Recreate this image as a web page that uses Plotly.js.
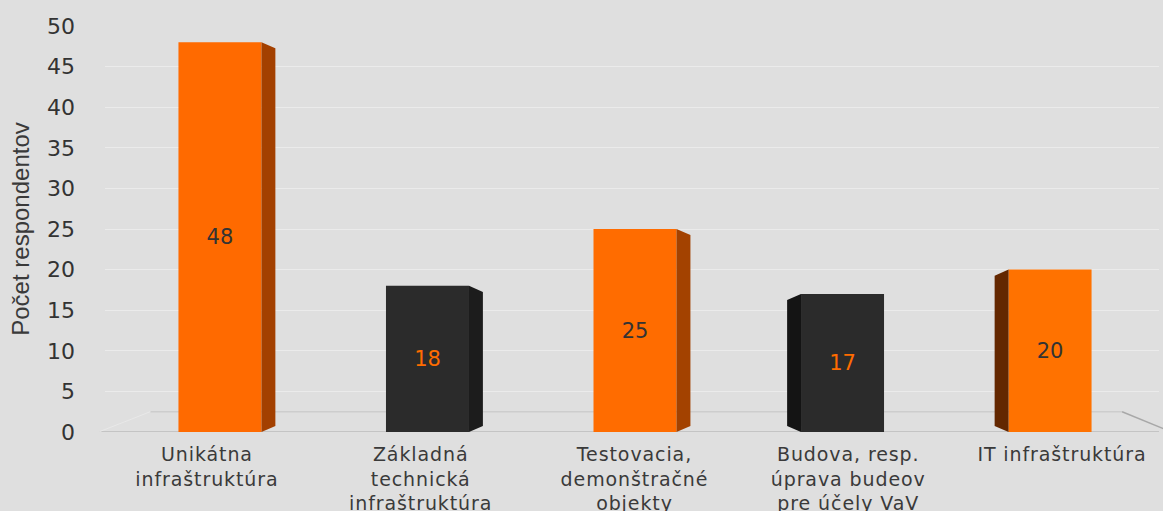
<!DOCTYPE html>
<html>
<head>
<meta charset="utf-8">
<script src="https://cdn.plot.ly/plotly-3.0.1.min.js"></script>
<style>
html,body{margin:0;padding:0;background:#dfdfdf;}
#chart{width:1163px;height:511px;}
g.x2tick text{letter-spacing:0.9px;}
</style>
</head>
<body>
<div id="chart"></div>
<script>
const categories = ["Unikátna<br>infraštruktúra", "Základná<br>technická<br>infraštruktúra", "Testovacia,<br>demonštračné<br>objekty", "Budova, resp.<br>úprava budeov<br>pre účely VaV", "IT infraštruktúra"];
const values = [48, 18, 25, 17, 20];
const barColors = ["#ff6a00", "#2b2b2b", "#ff6c00", "#2b2b2b", "#ff7200"];
const sideColors = ["#a34000", "#1c1c1c", "#a34200", "#141414", "#632700"];
const sideDir = [1, 1, 1, -1, -1];
const textColors = ["#333333", "#ff6c00", "#333333", "#ff6c00", "#333333"];
const tickVals = [0, 5, 10, 15, 20, 25, 30, 35, 40, 45, 50];

const FONT = 'DejaVu Sans, Verdana, sans-serif';
const barWidth = 0.4;
const depth = 0.067;
const slant = 0.75;
const idx = categories.map((c, i) => i);

const shapes = values.map((v, i) => {
  const edge = i + sideDir[i] * barWidth / 2;
  const outer = edge + sideDir[i] * depth;
  return {
    type: 'path', xref: 'x', yref: 'y', layer: 'above',
    path: `M ${edge} 0 L ${edge} ${v} L ${outer} ${v - slant} L ${outer} ${slant} Z`,
    fillcolor: sideColors[i], line: {width: 0}
  };
});
// floor outline (front edge, back edge, perspective sides)
shapes.push({type:'line', xref:'paper', yref:'y', x0:-0.005, x1:1, y0:0, y1:0, line:{color:'#c4c4c4', width:2}, layer:'below'});
shapes.push({type:'line', xref:'paper', yref:'y', x0:0.043, x1:0.965, y0:2.5, y1:2.5, line:{color:'#cdcdcd', width:1.5}, layer:'below'});
shapes.push({type:'line', xref:'paper', yref:'y', x0:-0.005, x1:0.043, y0:0.05, y1:2.5, line:{color:'#e8e8e8', width:1}, layer:'below'});
shapes.push({type:'line', xref:'paper', yref:'y', x0:0.965, x1:1.01, y0:2.5, y1:0.1, line:{color:'#a8a8a8', width:1.5}, layer:'below'});

const trace = {
  type: 'bar',
  x: idx,
  y: values,
  width: barWidth,
  marker: {color: barColors, line: {width: 0}},
  text: values.map(String),
  textposition: 'inside',
  insidetextanchor: 'middle',
  textangle: 0,
  textfont: {family: FONT, size: 21, color: textColors},
  hoverinfo: 'none'
};
const labelTrace = {
  type: 'scatter', mode: 'markers', x: idx, y: values.map(() => null),
  xaxis: 'x2', yaxis: 'y', hoverinfo: 'none', showlegend: false
};

const layout = {
  width: 1163, height: 511,
  paper_bgcolor: '#dfdfdf', plot_bgcolor: '#dfdfdf',
  margin: {l: 105, r: 4, t: 26, b: 79},
  showlegend: false,
  xaxis: {
    range: [-0.554, 4.525],
    showgrid: false, zeroline: false, showline: false, ticks: '', showticklabels: false
  },
  xaxis2: {
    overlaying: 'x', side: 'bottom', anchor: 'y',
    range: [-0.477, 4.454],
    tickmode: 'array', tickvals: idx, ticktext: categories,
    showgrid: false, zeroline: false, showline: false, ticks: '',
    ticklabelstandoff: 9,
    tickfont: {family: FONT, size: 19, color: '#3a3a3a'},
    tickangle: 0
  },
  yaxis: {
    range: [0, 50], tickmode: 'array', tickvals: tickVals,
    showgrid: true, gridcolor: 'rgba(255,255,255,0.38)', gridwidth: 1,
    zeroline: false, showline: false, ticks: '',
    ticklabelstandoff: 29,
    tickfont: {family: FONT, size: 22, color: '#333333'},
    title: {text: 'Počet respondentov', standoff: 10,
      font: {family: 'Liberation Sans, Arial, sans-serif', size: 24, color: '#3a3a3a'}}
  },
  shapes: shapes
};

Plotly.newPlot('chart', [trace, labelTrace], layout, {displayModeBar: false, staticPlot: true});
</script>
</body>
</html>
